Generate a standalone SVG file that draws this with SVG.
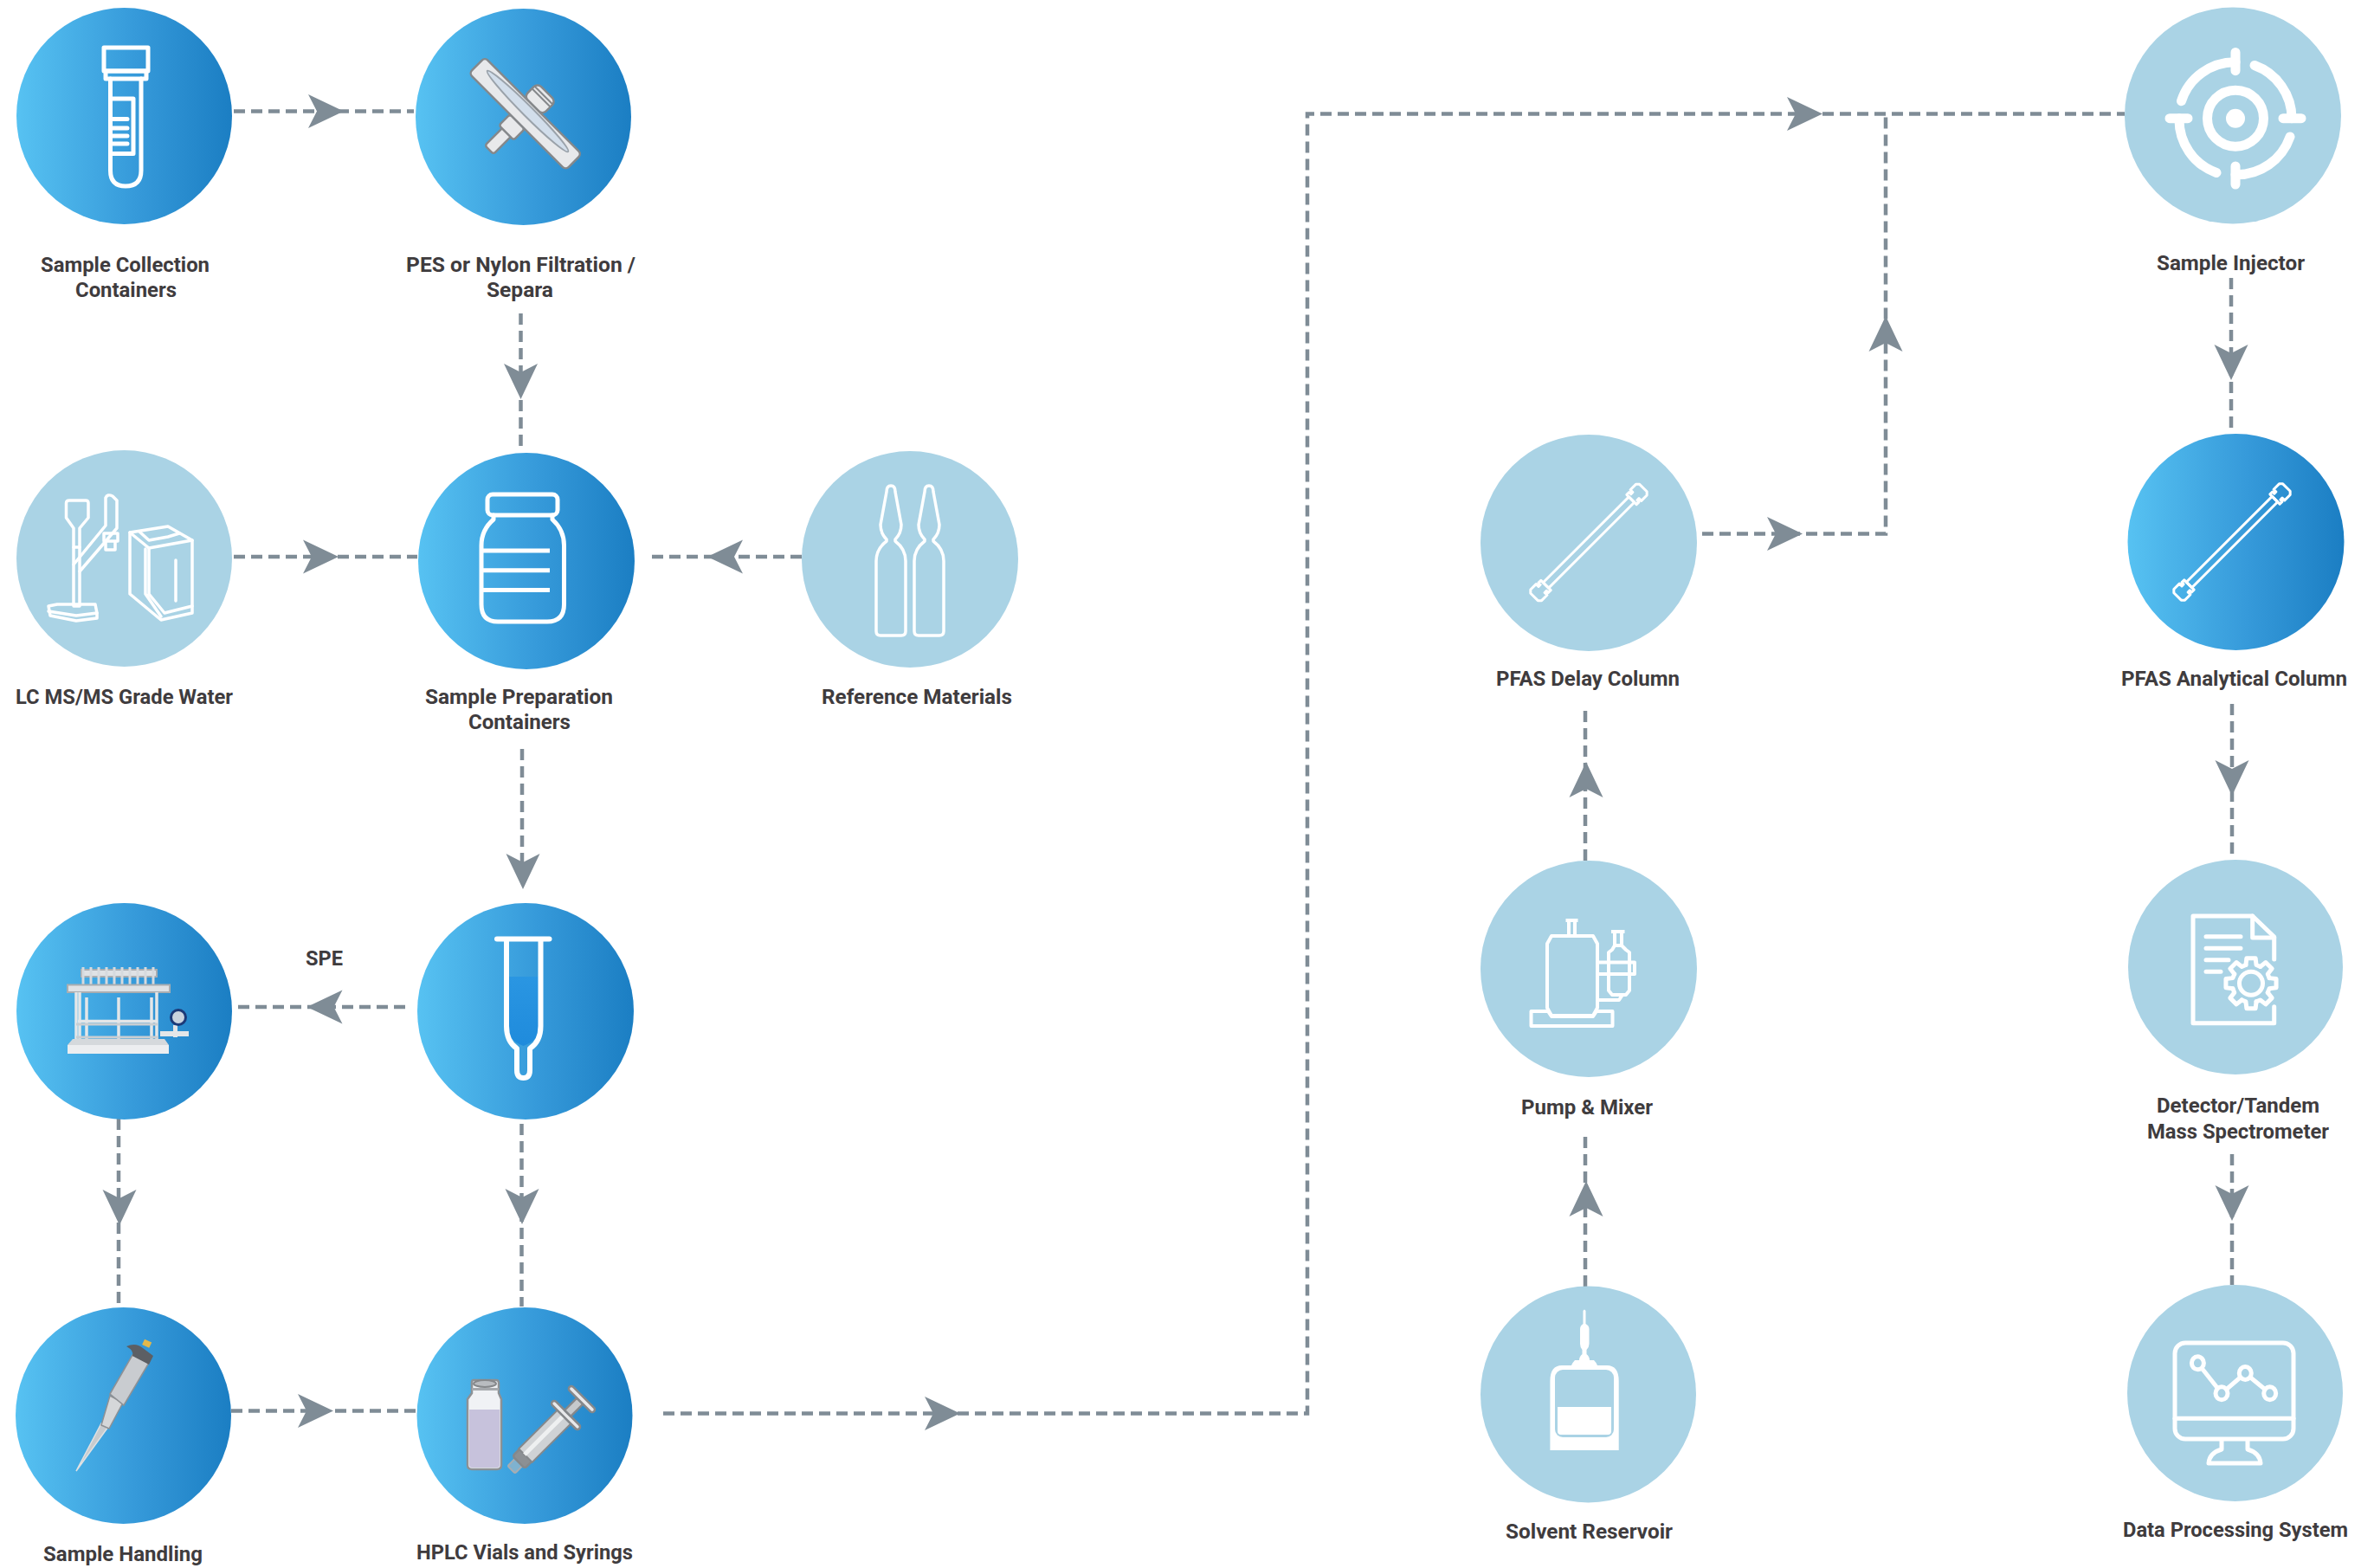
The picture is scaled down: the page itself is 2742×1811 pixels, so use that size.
<svg xmlns="http://www.w3.org/2000/svg" xmlns:xlink="http://www.w3.org/1999/xlink" width="2742" height="1811" viewBox="0 0 2742 1811">
<style>
.dk{fill:url(#blue)}
.lt{fill:#aad3e5}
.lbl{font-family:"Roboto","Liberation Sans",sans-serif;font-weight:700;font-size:24px;fill:#3f3c3e}
.ic{fill:none;stroke:#fff;stroke-width:5;stroke-linecap:round;stroke-linejoin:round}
.ic3{fill:none;stroke:#fff;stroke-width:3.5;stroke-linejoin:round;stroke-linecap:round}
.con{fill:none;stroke:#7f8c96;stroke-width:4.5;stroke-dasharray:13 7}
.ah{fill:#7f8c96}
.met{fill:#dfe2e5;stroke:#a9adb1;stroke-width:2}
.gry{fill:#e8e9eb;stroke:#85888b;stroke-width:2.5;stroke-linejoin:round}
</style>
<defs>
<linearGradient id="blue" x1="0" y1="0" x2="1" y2="0"><stop offset="0" stop-color="#57c2f2"/><stop offset="0.55" stop-color="#369ada"/><stop offset="1" stop-color="#1b7ec3"/></linearGradient>
<linearGradient id="liq" x1="0" y1="0" x2="0" y2="1"><stop offset="0" stop-color="#2a96e2"/><stop offset="1" stop-color="#1f8bdc"/></linearGradient>
<path id="arrow" d="M-41,-19.5 L0,0 L-41,19.5 L-31,0 Z"/>
<path id="amp" d="M-5,568 Q-5,561 0,561 Q5,561 5,568 L12,606 Q12,616 5,623 L5,625 Q17,634 17,648 L17,729 Q17,734 12,734 L-12,734 Q-17,734 -17,729 L-17,648 Q-17,634 -5,625 L-5,623 Q-12,616 -12,606 Z"/>
<g id="column">
<rect x="-70" y="-4.5" width="140" height="9"/>
<path d="M70,-8 h4 v3 h3 v-4 h9 l3,3 v12 l-3,3 h-9 v-4 h-3 v3 h-4 z"/>
<path d="M-70,-8 h-4 v3 h-3 v-4 h-9 l-3,3 v12 l3,3 h9 v-4 h3 v3 h4 z"/>
</g>
<path id="gt" d="M21.15,-6.06 L29.05,-5.12 L29.05,5.12 L21.15,6.06 L19.24,10.67"/>
</defs>
<rect width="2742" height="1811" fill="#fff"/>

<g id="connectors">
<path class="con" d="M270,128.5 H478"/><use href="#arrow" class="ah" transform="translate(397,128.5)"/>
<path class="con" d="M601.5,362 V522"/><use href="#arrow" class="ah" transform="translate(601.5,461) rotate(90)"/>
<path class="con" d="M270,643 H482"/><use href="#arrow" class="ah" transform="translate(391,643)"/>
<path class="con" d="M926,643 H750"/><use href="#arrow" class="ah" transform="translate(817,643) rotate(180)"/>
<path class="con" d="M603,865 V1025"/><use href="#arrow" class="ah" transform="translate(604,1027) rotate(90)"/>
<path class="con" d="M468,1163 H275"/><use href="#arrow" class="ah" transform="translate(354.5,1163) rotate(180)"/>
<path class="con" d="M137,1292 V1509"/><use href="#arrow" class="ah" transform="translate(138,1415) rotate(90)"/>
<path class="con" d="M602.5,1298 V1509"/><use href="#arrow" class="ah" transform="translate(603,1414) rotate(90)"/>
<path class="con" d="M267,1629.5 H481"/><use href="#arrow" class="ah" transform="translate(385,1629.5)"/>
<path class="con" d="M766,1632.5 H1510 V131.5 H2454"/><use href="#arrow" class="ah" transform="translate(1109,1632.5)"/><use href="#arrow" class="ah" transform="translate(2105,131.5)"/>
<path class="con" d="M1966,616.5 H2178 V131.5"/><use href="#arrow" class="ah" transform="translate(2082,616.5)"/><use href="#arrow" class="ah" transform="translate(2178,365) rotate(-90)"/>
<path class="con" d="M2577,321 V500"/><use href="#arrow" class="ah" transform="translate(2577,439) rotate(90)"/>
<path class="con" d="M2578,813 V993"/><use href="#arrow" class="ah" transform="translate(2578,919) rotate(90)"/>
<path class="con" d="M2578,1333 V1484"/><use href="#arrow" class="ah" transform="translate(2578,1410) rotate(90)"/>
<path class="con" d="M1831,994 V815"/><use href="#arrow" class="ah" transform="translate(1832,880) rotate(-90)"/>
<path class="con" d="M1831,1486 V1309"/><use href="#arrow" class="ah" transform="translate(1832,1364) rotate(-90)"/>
</g>

<g id="node-sample-collection">
<ellipse class="dk" cx="143.5" cy="134" rx="124.5" ry="125"/>
<g class="ic">
<rect x="120" y="55" width="51" height="27"/>
<rect x="122" y="82" width="47" height="9"/>
<path d="M127.5,91 V197 Q127.5,215 145,215 Q163,215 163,197 V91"/>
<path d="M127.5,114 H154 V177.5 H127.5"/>
<path d="M128,137.5 H147 M128,148 H147 M128,157 H147 M128,166 H147"/>
</g>
<text class="lbl" x="47" y="314" textLength="195" lengthAdjust="spacingAndGlyphs">Sample Collection</text>
<text class="lbl" x="87" y="343" textLength="117" lengthAdjust="spacingAndGlyphs">Containers</text>
</g>

<g id="node-filtration">
<ellipse class="dk" cx="604.5" cy="135" rx="124.5" ry="125"/>
<g transform="translate(606,132) rotate(45)">
<rect class="gry" x="-7" y="14" width="14" height="44" rx="3"/>
<rect class="gry" x="-12" y="12" width="24" height="18" rx="3"/>
<rect class="gry" x="-15" y="-36" width="30" height="22" rx="6"/>
<path d="M-15,-27 H15 M-15,-31 H15" stroke="#85888b" stroke-width="2" fill="none"/>
<rect class="gry" x="-79" y="-14" width="158" height="26" rx="5"/>
<ellipse cx="0" cy="-5" rx="66" ry="6" fill="#d2deeb" stroke="#9aa2aa" stroke-width="2"/>
</g>
<text class="lbl" x="469" y="314" textLength="265" lengthAdjust="spacingAndGlyphs">PES or Nylon Filtration /</text>
<text class="lbl" x="562" y="343" textLength="77" lengthAdjust="spacingAndGlyphs">Separa</text>
</g>

<g id="node-water">
<ellipse class="lt" cx="143.5" cy="645" rx="124.5" ry="125"/>
<g class="ic3">
<path d="M76.5,581 Q76.5,578 80,578 H99 Q102,578 102,581 V598 L92,610 V632 H85 V610 L76.5,598 Z"/>
<path d="M85,632 V700 H92 V632"/>
<path d="M85,652 L122,607 V575 Q124,570 130,573 L135,578 V610 L92,660"/>
<path d="M120,616 H136 V625 H120 Z M122,625 V635 H133 V625"/>
<path d="M56,700 L66,698 H110 L112,708 V714 L88,717 L58,711 Z"/>
<path d="M56,706 L88,711 L112,708"/>
<path d="M150,615 L194,608 L222,624 L222,708 L186,716 L150,686 Z"/>
<path d="M150,615 L172,633 L222,624"/>
<path d="M161,614 L172,624 L194,620 L207,616"/>
<path d="M168,634 V686 L186,712 M172,633 V686 L190,708 L222,700"/>
<path d="M203,647 V694"/>
</g>
<text class="lbl" x="18" y="813" textLength="251" lengthAdjust="spacingAndGlyphs">LC MS/MS Grade Water</text>
</g>

<g id="node-prep-containers">
<ellipse class="dk" cx="608" cy="648" rx="125" ry="125"/>
<g class="ic">
<rect x="563" y="571" width="81" height="24" rx="6"/>
<path d="M570,595 V600 Q556,612 556,630 V698 Q556,718 575,718 H632 Q651.5,718 651.5,698 V630 Q651.5,612 638,600 V595"/>
<path stroke-linecap="butt" d="M558,636 H635 M558,658.8 H635 M558,681.5 H635"/>
</g>
<text class="lbl" x="491" y="813" textLength="217" lengthAdjust="spacingAndGlyphs">Sample Preparation</text>
<text class="lbl" x="541" y="842" textLength="118" lengthAdjust="spacingAndGlyphs">Containers</text>
</g>

<g id="node-reference">
<ellipse class="lt" cx="1051" cy="646" rx="125" ry="125"/>
<g class="ic3"><use href="#amp" x="1029"/><use href="#amp" x="1073"/></g>
<text class="lbl" x="949" y="812.5" textLength="220" lengthAdjust="spacingAndGlyphs">Reference Materials</text>
</g>

<g id="node-manifold">
<ellipse class="dk" cx="143.5" cy="1168" rx="124.5" ry="125"/>
<g>
<path d="M94,1120 H181 V1128 H94 Z" class="met"/>
<path fill="none" stroke="#d6dade" stroke-width="3" d="M96,1117 V1137 M105,1117 V1137 M114,1117 V1137 M123,1117 V1137 M132,1117 V1137 M141,1117 V1137 M150,1117 V1137 M159,1117 V1137 M168,1117 V1137 M177,1117 V1137"/>
<rect class="met" x="78" y="1137.5" width="118" height="8.5"/>
<path fill="none" stroke="#e3e6e8" stroke-width="3.5" d="M88,1146 V1200 M92,1146 V1200 M100,1152 V1200 M137,1152 V1200 M175,1152 V1200 M181,1146 V1200 M90,1179.5 H182"/>
<path fill="none" stroke="#c9ced2" stroke-width="3" d="M88,1198 H183 M88,1183 H182"/>
<rect x="78" y="1207" width="117" height="10" fill="#eceef0"/>
<path fill="#d5d9dc" d="M84,1200 H190 L195,1207 H78 Z"/>
<rect x="185" y="1191" width="33" height="6" fill="#e3e6e8"/>
<rect x="200" y="1184" width="5" height="14" fill="#e3e6e8"/>
<circle cx="206" cy="1175" r="8.5" fill="#c9d3de" stroke="#1c3a78" stroke-width="3"/>
</g>
<text class="lbl" x="353" y="1115" textLength="43" lengthAdjust="spacingAndGlyphs">SPE</text>
</g>

<g id="node-spe">
<ellipse class="dk" cx="607" cy="1168" rx="125" ry="125"/>
<path d="M587,1128 H622 V1187 Q622,1202 604.5,1208 Q587,1202 587,1187 Z" fill="url(#liq)"/>
<g class="ic" style="stroke-width:6">
<path d="M574,1084.6 H634.5"/>
<path d="M585,1085 V1185 Q585,1203 597,1211 V1236 Q597,1245 604.5,1245 Q612,1245 612,1236 V1211 Q624.5,1203 624.5,1185 V1085"/>
</g>
</g>

<g id="node-handling">
<ellipse class="dk" cx="142.5" cy="1635" rx="124.5" ry="125"/>
<path d="M88,1699 L117,1644 L125,1648 Z" fill="#c8cbce" stroke="#dfe1e3" stroke-width="1.5"/>
<path d="M117,1646 L127,1612 L142,1620 L126,1650 Z" fill="#d5d7d9" stroke="#8e9195" stroke-width="1.5"/>
<path d="M127,1610 L153,1565 L172,1574 L143,1623 Z" fill="#c9ccd0" stroke="#8e9195" stroke-width="1.5"/>
<path d="M146,1555 Q157,1550 165,1557 L177,1566 L172,1576 L153,1566 Q155,1560 146,1555 Z" fill="#5c5f64"/>
<rect x="165" y="1548" width="9" height="7" fill="#e2b84a" transform="rotate(25 169 1552)"/>
<text class="lbl" x="50" y="1803" textLength="184" lengthAdjust="spacingAndGlyphs">Sample Handling</text>
</g>

<g id="node-hplc">
<ellipse class="dk" cx="606" cy="1635" rx="124.5" ry="125"/>
<path d="M547,1594 H573 Q576,1594 576,1597 V1609 L579,1616 V1692 Q579,1697 574,1697 H545 Q540,1697 540,1692 V1616 L545,1609 V1597 Q545,1594 547,1594 Z" fill="#f0f2f5" stroke="#8d9195" stroke-width="2.5"/>
<path d="M542,1628 H577 V1692 Q577,1695 574,1695 H545 Q542,1695 542,1692 Z" fill="#c7c2dc"/>
<ellipse cx="560" cy="1598" rx="13" ry="4" fill="#b9bcc0" stroke="#85888b" stroke-width="2"/>
<rect x="545" y="1603" width="31" height="3" fill="#a6a9ad"/>
<g transform="translate(638,1650) rotate(-45)">
<rect class="met" x="-67" y="-6" width="14" height="12" rx="2" style="fill:#7fb2cf"/>
<rect class="gry" x="-55" y="-10" width="13" height="20" rx="3" style="fill:#8c9094"/>
<rect x="-44" y="-11" width="64" height="22" fill="#cfd2d5" stroke="#85888b" stroke-width="2"/>
<rect x="-44" y="-4" width="64" height="5" fill="#eef0f1"/>
<rect class="gry" x="19" y="-22" width="6" height="44" rx="3"/>
<rect class="gry" x="25" y="-5" width="20" height="10" style="fill:#c6c9cc"/>
<rect class="gry" x="45" y="-20" width="6" height="40" rx="3"/>
</g>
<text class="lbl" x="481" y="1801" textLength="250" lengthAdjust="spacingAndGlyphs">HPLC Vials and Syrings</text>
</g>

<g id="node-delay-column">
<ellipse class="lt" cx="1835" cy="627" rx="125" ry="125"/>
<use href="#column" class="ic3" transform="translate(1835,626.5) rotate(-45)" style="stroke-width:3"/>
<text class="lbl" x="1728" y="792" textLength="212" lengthAdjust="spacingAndGlyphs">PFAS Delay Column</text>
</g>

<g id="node-pump">
<ellipse class="lt" cx="1835" cy="1119" rx="125" ry="125"/>
<g class="ic" style="stroke-width:4;stroke-linecap:butt">
<path d="M1808.5,1063 H1822.5 M1812,1063 V1080 M1819,1063 V1080"/>
<path d="M1792,1081 H1840 L1845,1090 V1164 L1840,1173 H1792 L1787,1164 V1090 Z"/>
<path d="M1768.5,1168 H1788 L1792,1174 H1840 L1844,1168 H1862.5 V1185 H1768.5 Z"/>
<path d="M1861,1076 H1876.5 M1865,1076 V1092 M1873,1076 V1092"/>
<path d="M1862,1097 L1865,1092 H1873 L1878,1097 L1882,1100 V1144 L1878,1149 H1862 L1858,1144 V1100 Z"/>
<rect x="1845" y="1111.6" width="43" height="13.4"/>
<path d="M1845,1155 H1870 L1874,1149"/>
</g>
<text class="lbl" x="1757" y="1287" textLength="152" lengthAdjust="spacingAndGlyphs">Pump &amp; Mixer</text>
</g>

<g id="node-solvent">
<ellipse class="lt" cx="1834.5" cy="1610.5" rx="124.5" ry="125"/>
<path fill="#fff" d="M1828.5,1514 Q1830,1511 1831.5,1514 V1529 Q1835.5,1531 1835.5,1535 V1552 Q1835.5,1556 1832.5,1559 V1564 Q1836,1567 1836,1571 H1841 Q1844,1574 1845,1577 H1856 Q1869.7,1577 1869.7,1595 V1675 H1790.4 V1595 Q1790.4,1577 1804,1577 H1815 Q1816,1574 1819,1571 H1824 Q1824,1567 1827.5,1564 V1559 Q1825,1556 1825,1552 V1535 Q1825,1531 1828.5,1529 Z"/>
<rect class="lt" x="1796" y="1582" width="68" height="78" rx="9"/>
<rect x="1799" y="1625" width="62" height="32" rx="4" fill="#fff"/>
<path fill="#fff" d="M1799,1625 H1861 V1640 H1799 Z"/>
<text class="lbl" x="1739" y="1777" textLength="193" lengthAdjust="spacingAndGlyphs">Solvent Reservoir</text>
</g>

<g id="node-injector">
<circle class="lt" cx="2579" cy="133.5" r="125"/>
<g fill="none" stroke="#fff" stroke-width="11" stroke-linecap="round">
<circle cx="2582" cy="136.7" r="32.5"/>
<path d="M2519.5,116.7 A65,65 0 0 1 2582,71.7"/>
<path d="M2604,75.5 A65,65 0 0 1 2647,136.7"/>
<path d="M2645,158 A65,65 0 0 1 2582,201.7"/>
<path d="M2560,199.5 A65,65 0 0 1 2517,136.7"/>
<path d="M2582,60.5 V81.7 M2506,136.7 H2527 M2637,136.7 H2658 M2582,192 V213"/>
</g>
<circle cx="2582" cy="136.7" r="11" fill="#fff"/>
<text class="lbl" x="2491" y="312" textLength="171" lengthAdjust="spacingAndGlyphs">Sample Injector</text>
</g>

<g id="node-analytical-column">
<ellipse class="dk" cx="2582.5" cy="626" rx="125" ry="125"/>
<use href="#column" class="ic3" transform="translate(2578,626) rotate(-45)" style="stroke-width:3"/>
<text class="lbl" x="2450" y="791.5" textLength="261" lengthAdjust="spacingAndGlyphs">PFAS Analytical Column</text>
</g>

<g id="node-detector">
<ellipse class="lt" cx="2582" cy="1117" rx="124" ry="124"/>
<g class="ic">
<path d="M2626.7,1108 V1082 L2601.7,1058 H2533 V1181.7 H2626.7 V1162.7"/>
<path d="M2601.7,1058 V1083 H2626.7"/>
<path d="M2548,1081.7 H2588 M2548,1095.3 H2588 M2548,1108.7 H2574 M2548,1122.3 H2565"/>
<circle cx="2600" cy="1135.7" r="13.5"/>
<g transform="translate(2600,1135.7)">
<use href="#gt"/><use href="#gt" transform="rotate(45)"/><use href="#gt" transform="rotate(90)"/><use href="#gt" transform="rotate(135)"/><use href="#gt" transform="rotate(180)"/><use href="#gt" transform="rotate(225)"/><use href="#gt" transform="rotate(270)"/><use href="#gt" transform="rotate(315)"/>
</g>
</g>
<text class="lbl" x="2491" y="1285" textLength="188" lengthAdjust="spacingAndGlyphs">Detector/Tandem</text>
<text class="lbl" x="2480" y="1315" textLength="210" lengthAdjust="spacingAndGlyphs">Mass Spectrometer</text>
</g>

<g id="node-data">
<ellipse class="lt" cx="2581.5" cy="1609" rx="124.5" ry="125"/>
<g class="ic" style="stroke-width:5">
<rect x="2512" y="1551" width="137" height="111" rx="12"/>
<path d="M2512,1638.3 H2649"/>
<path d="M2566,1662.7 V1674 Q2552,1678 2551,1690 H2611 Q2610,1678 2596,1674 V1662.7"/>
<path d="M2538.4,1574.3 L2566,1609.3 L2593.3,1586 L2621.7,1609.3"/>
</g>
<g class="lt" stroke="#fff" stroke-width="5">
<ellipse cx="2538.4" cy="1574.3" rx="7" ry="7.5"/>
<ellipse cx="2566" cy="1609.3" rx="7" ry="7.5"/>
<ellipse cx="2593.3" cy="1586" rx="7" ry="7.5"/>
<ellipse cx="2621.7" cy="1609.3" rx="7" ry="7.5"/>
</g>
<text class="lbl" x="2452" y="1775" textLength="260" lengthAdjust="spacingAndGlyphs">Data Processing System</text>
</g>
</svg>
